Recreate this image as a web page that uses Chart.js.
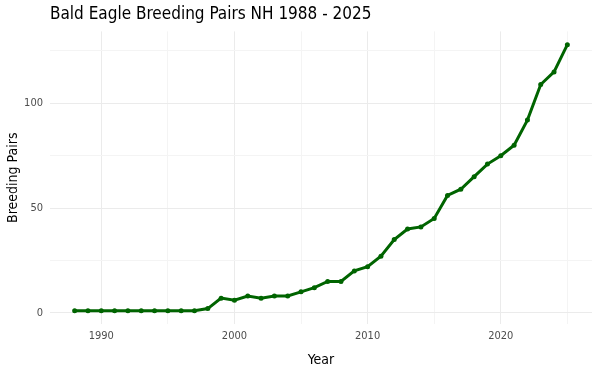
<!DOCTYPE html>
<html>
<head>
<meta charset="utf-8">
<script src="https://cdn.jsdelivr.net/npm/chart.js@4"></script>
<style>
html,body{margin:0;padding:0;background:#fff;}
#wrap{width:600px;height:375px;}
</style>
</head>
<body>
<div id="wrap"><canvas id="c" width="600" height="375"></canvas></div>
<script>
const years = [1988,1989,1990,1991,1992,1993,1994,1995,1996,1997,1998,1999,2000,2001,2002,2003,2004,2005,2006,2007,2008,2009,2010,2011,2012,2013,2014,2015,2016,2017,2018,2019,2020,2021,2022,2023,2024,2025];
const pairs = [1,1,1,1,1,1,1,1,1,1,2,7,6,8,7,8,8,10,12,15,15,20,22,27,35,40,41,45,56,59,65,71,75,80,92,109,115,128];
const xTicks = [1990,1995,2000,2005,2010,2015,2020,2025];
const xMajor = [1990,2000,2010,2020];
const yTicks = [0,25,50,75,100,125];
const yMajor = [0,50,100];
const titleText = 'Bald Eagle Breeding Pairs NH 1988 - 2025';
const xTitle = 'Year';
const yTitle = 'Breeding Pairs';

const FONT = "'DejaVu Sans Condensed', 'DejaVu Sans', sans-serif";
const green = '#006400';

new Chart(document.getElementById('c'), {
  type: 'line',
  data: {
    datasets: [{
      data: years.map((y,i)=>({x:y, y:pairs[i]})),
      borderColor: green,
      backgroundColor: green,
      borderWidth: 3,
      pointRadius: 2.5,
      pointBorderWidth: 0,
      pointHoverRadius: 2.5,
      tension: 0
    }]
  },
  options: {
    responsive: false,
    animation: false,
    devicePixelRatio: 1,
    layout: {padding: {left: 0, right: 8, top: 0, bottom: 0}},
    plugins: {
      legend: {display: false},
      tooltip: {enabled: false},
      title: {
        display: true,
        text: titleText,
        align: 'start',
        fullSize: false,
        color: '#000',
        font: {family: FONT, size: 17, weight: 'normal'},
        padding: {top: 4, bottom: 7}
      }
    },
    scales: {
      x: {
        type: 'linear',
        min: 1986.15,
        max: 2026.85,
        afterBuildTicks: s => { s.ticks = xTicks.map(v=>({value:v})); },
        afterFit: s => { s.height = 51; },
        border: {display: false},
        grid: {
          drawTicks: false,
          color: c => xMajor.includes(c.tick && c.tick.value) ? '#ebebeb' : '#f4f4f4',
          lineWidth: 1
        },
        ticks: {
          padding: 6,
          autoSkip: false,
          maxRotation: 0,
          color: '#4d4d4d',
          font: {family: FONT, size: 11},
          callback: v => xMajor.includes(v) ? String(v) : ''
        },
        title: {
          display: true,
          text: xTitle,
          color: '#000',
          font: {family: FONT, size: 14},
          padding: {top: 0, bottom: 6}
        }
      },
      y: {
        type: 'linear',
        min: -5.35,
        max: 134.35,
        afterBuildTicks: s => { s.ticks = yTicks.map(v=>({value:v})); },
        afterFit: s => { s.width = 50; },
        border: {display: false},
        grid: {
          drawTicks: false,
          color: c => yMajor.includes(c.tick && c.tick.value) ? '#ebebeb' : '#f4f4f4',
          lineWidth: 1
        },
        ticks: {
          padding: 7,
          autoSkip: false,
          color: '#4d4d4d',
          font: {family: FONT, size: 11},
          callback: v => yMajor.includes(v) ? String(v) : ''
        },
        title: {
          display: true,
          text: yTitle,
          color: '#000',
          font: {family: FONT, size: 14},
          padding: {top: 5, bottom: 0}
        }
      }
    }
  }
});
</script>
</body>
</html>
